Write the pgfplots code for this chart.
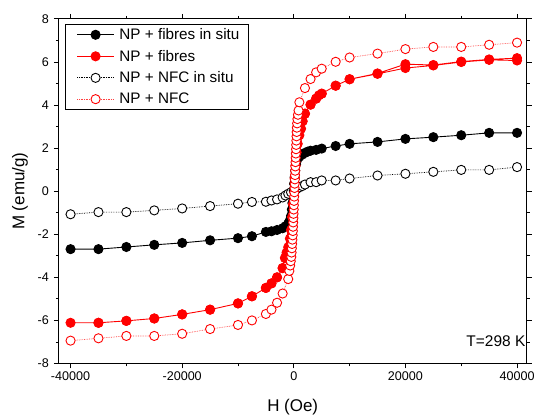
\documentclass[border=0pt]{standalone}
\usepackage{pgfplots}
\pgfplotsset{compat=1.18}
\usepackage{fontspec}
\setmainfont{Liberation Sans}

% NP + fibres in situ (filled black)
\pgfplotstableread{
H M
-40000 -2.69
-35000 -2.69
-30000 -2.59
-25000 -2.49
-20000 -2.40
-15000 -2.28
-10000 -2.18
-7500 -2.09
-5000 -1.89
-4000 -1.86
-3000 -1.80
-2000 -1.72
-1500 -1.63
-1000 -1.50
-700 -1.35
-500 -1.15
-350 -0.85
-250 -0.55
-150 -0.25
-50 0.05
50 0.35
150 0.65
250 0.95
400 1.25
600 1.45
1000 1.60
1500 1.70
2000 1.78
2500 1.84
3000 1.88
4000 1.92
5000 1.98
7500 2.10
10000 2.20
15000 2.29
20000 2.43
25000 2.51
30000 2.60
35000 2.71
40000 2.71
}\fibinsitu

% NP + fibres (filled red), full loop
\pgfplotstableread{
H M
40000 6.18
35000 6.12
30000 6.02
25000 5.86
20000 5.90
15000 5.47
10000 5.20
7500 4.90
5000 4.53
4500 4.45
4000 4.30
3000 4.02
2000 3.60
1600 3.25
1300 2.90
1000 2.60
700 2.20
500 1.80
300 1.20
150 0.60
0 0.00
-150 -0.60
-300 -1.20
-500 -1.80
-700 -2.20
-1000 -2.60
-1300 -2.85
-1600 -3.10
-2000 -3.57
-3000 -4.00
-4000 -4.28
-5000 -4.49
-7500 -4.88
-10000 -5.21
-15000 -5.50
-20000 -5.72
-25000 -5.91
-30000 -6.02
-35000 -6.11
-40000 -6.11
-35000 -6.11
-30000 -6.02
-25000 -5.91
-20000 -5.72
-15000 -5.50
-10000 -5.21
-7500 -4.88
-5000 -4.49
-4000 -4.28
-3000 -4.00
-2000 -3.57
2000 3.60
3000 4.02
4000 4.30
5000 4.53
7500 4.90
10000 5.20
15000 5.45
20000 5.72
25000 5.84
30000 6.00
35000 6.10
40000 6.07
}\fibres

% NP + NFC in situ (open black)
\pgfplotstableread{
H M
-40000 -1.07
-35000 -0.97
-30000 -0.97
-25000 -0.89
-20000 -0.80
-15000 -0.69
-10000 -0.58
-7500 -0.50
-5000 -0.49
-4000 -0.43
-3000 -0.38
-2000 -0.29
-1500 -0.20
-1000 -0.12
-500 -0.05
0 0.02
500 0.10
1000 0.18
1500 0.24
2000 0.31
3000 0.42
4000 0.42
5000 0.50
7500 0.50
10000 0.59
15000 0.73
20000 0.81
25000 0.90
30000 0.99
35000 0.99
40000 1.12
}\nfcinsitu

% NP + NFC (open red)
\pgfplotstableread{
H M
-40000 -6.94
-35000 -6.83
-30000 -6.72
-25000 -6.72
-20000 -6.62
-15000 -6.40
-10000 -6.21
-7500 -6.00
-5000 -5.70
-4000 -5.50
-3000 -5.18
-2000 -4.75
-1000 -4.08
-800 -3.70
-650 -3.45
-550 -3.25
-450 -3.05
-400 -2.85
-350 -2.65
-300 -2.45
-250 -2.25
-200 -2.05
-170 -1.85
-140 -1.65
-110 -1.45
-80 -1.25
-50 -1.05
-20 -0.85
10 -0.65
40 -0.45
70 -0.25
100 -0.05
130 0.15
160 0.35
190 0.55
220 0.75
250 0.95
280 1.15
310 1.35
340 1.55
370 1.75
400 1.95
430 2.15
460 2.35
490 2.55
520 2.75
550 2.95
600 3.15
650 3.35
750 3.55
850 3.75
1000 4.13
2000 4.79
3000 5.21
4000 5.52
5000 5.69
7500 6.01
10000 6.21
15000 6.39
20000 6.60
25000 6.70
30000 6.70
35000 6.80
40000 6.90
}\nfc

\begin{document}
\begin{tikzpicture}
\begin{axis}[
    name=ax,
    scale only axis,
    width=469pt,
    height=345.5pt,
    xmin=-42100, xmax=41700,
    ymin=-8, ymax=8,
    xtick={-40000,-20000,0,20000,40000},
    ytick={-8,-6,-4,-2,0,2,4,6,8},
    minor x tick num=1,
    minor y tick num=1,
    tick align=outside,
    tick pos=both,
    major tick length=5pt,
    minor tick length=3pt,
    tick style={black, line width=0.9pt},
    axis line style={line width=1pt},
    scaled x ticks=false,
    /pgf/number format/1000 sep={},
    /pgf/number format/assume math mode=true,
    ticklabel style={font=\fontsize{12.6}{14}\selectfont},
    yticklabel style={xshift=-1.5pt},
    xlabel={H (Oe)},
    ylabel={M (emu/g)},
    label style={font=\fontsize{17}{19}\selectfont},
    xlabel style={at={(axis description cs:0.5,0)}, anchor=base, yshift=-47.8pt},
    ylabel style={at={(axis description cs:-0.083,0.5)}, anchor=center},
    legend style={
        at={(0,1)}, anchor=north west, xshift=6.5pt, yshift=-4.7pt,
        draw=black, line width=0.8pt,
        font=\fontsize{15.3}{17}\selectfont,
        row sep=5pt, inner xsep=7pt, inner ysep=2.5pt,
        /tikz/every even column/.append style={column sep=0pt},
        /tikz/every odd column/.append style={column sep=3pt},
    },
    legend cell align=left,
    legend image code/.code={%
        \path (0pt,0pt);
        \draw[mark repeat=2,mark phase=2] plot coordinates {(4pt,0pt) (22.5pt,0pt) (41pt,0pt)};},
    clip=false,
]

\addplot[black, line width=0.9pt, mark=*, mark size=4.6pt,
    mark options={solid, fill=black, draw=black}]
    table[x=H, y=M] {\fibinsitu};
\addlegendentry{NP + fibres in situ}

\addplot[red, line width=0.9pt, mark=*, mark size=4.6pt,
    mark options={solid, fill=red, draw=red}]
    table[x=H, y=M] {\fibres};
\addlegendentry{NP + fibres}

\addplot[black, densely dotted, line width=0.7pt, mark=*, mark size=4.6pt,
    mark options={solid, fill=white, draw=black, line width=0.9pt}]
    table[x=H, y=M] {\nfcinsitu};
\addlegendentry{NP + NFC in situ}

\addplot[red!75, densely dotted, line width=0.7pt, mark=*, mark size=4.6pt,
    mark options={solid, fill=white, draw=red, line width=0.9pt}]
    table[x=H, y=M] {\nfc};
\addlegendentry{NP + NFC}

\node[anchor=base east, inner sep=0pt, font=\fontsize{15.5}{17}\selectfont]
    at (rel axis cs:1,0) [xshift=-1pt, yshift=16.7pt] {T=298 K};
\end{axis}
\pgfresetboundingbox
\path[use as bounding box] ([xshift=-59pt,yshift=19pt]ax.north west) rectangle ([xshift=8.5pt,yshift=-51.5pt]ax.south east);
\end{tikzpicture}
\end{document}
